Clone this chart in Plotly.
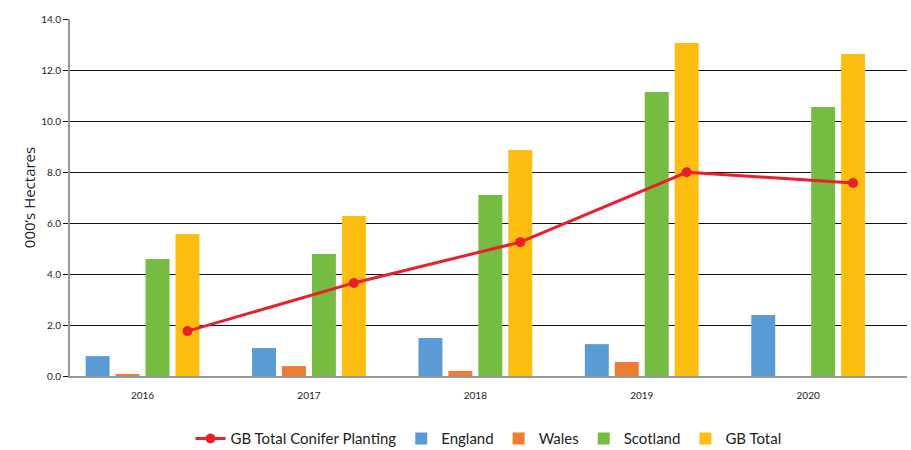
import plotly.graph_objects as go

years = ["2016", "2017", "2018", "2019", "2020"]
england = [0.78, 1.10, 1.49, 1.25, 2.39]
wales = [0.08, 0.39, 0.20, 0.55, 0.0]
scotland = [4.59, 4.78, 7.10, 11.14, 10.55]
gb_total = [5.57, 6.27, 8.86, 13.06, 12.63]
conifer = [1.76, 3.65, 5.25, 7.99, 7.57]

bar_series = [
    ("England", england, "#5B9BD5"),
    ("Wales", wales, "#ED7D31"),
    ("Scotland", scotland, "#76BC43"),
    ("GB Total", gb_total, "#FDBE10"),
]

BARGAP = 0.28
xs = list(range(len(years)))
slot = (1 - BARGAP) / len(bar_series)
# line points sit over the centre of the last (GB Total) bar in each group
line_offset = -(1 - BARGAP) / 2 + slot * (len(bar_series) - 0.5)

FONT = "Lato, Open Sans, sans-serif"

fig = go.Figure()
fig.add_trace(go.Scatter(
    x=[x + line_offset for x in xs], y=conifer, name="GB Total Conifer Planting",
    mode="lines+markers", line=dict(color="#E8202A", width=3),
    marker=dict(color="#E8202A", size=10),
))
for name, vals, col in bar_series:
    fig.add_trace(go.Bar(x=xs, y=vals, name=name, marker=dict(color=col, line=dict(width=0))))

fig.update_layout(
    width=911, height=450,
    margin=dict(l=70, r=4, t=19, b=74, autoexpand=False),
    paper_bgcolor="white", plot_bgcolor="white",
    barmode="group", bargap=BARGAP, bargroupgap=0.2,
    font=dict(family=FONT, color="#222"),
    showlegend=True,
    legend=dict(orientation="h", x=0.5, xanchor="center", yref="container", y=0.025, yanchor="middle",
                font=dict(size=15, color="#222"), itemwidth=30, traceorder="normal"),
    xaxis=dict(range=[-0.436, 4.594], tickmode="array", tickvals=xs, ticktext=years,
               showgrid=False, zeroline=False, showline=True, linecolor="#9a9a9a", linewidth=2,
               ticks="", ticklabelstandoff=9, tickfont=dict(size=10, color="#222")),
    yaxis=dict(range=[0, 14], dtick=2, tickformat=".1f", showgrid=True, gridcolor="#111",
               gridwidth=1, zeroline=False, showline=True, linecolor="#9a9a9a", linewidth=2,
               ticks="outside", ticklen=5, tickcolor="#111", tickfont=dict(size=10, color="#222"),
               title=dict(text="000’s Hectares", font=dict(family="Open Sans, sans-serif", size=15, color="#222"),
                          standoff=2)),
)

fig.write_html("out.html")
